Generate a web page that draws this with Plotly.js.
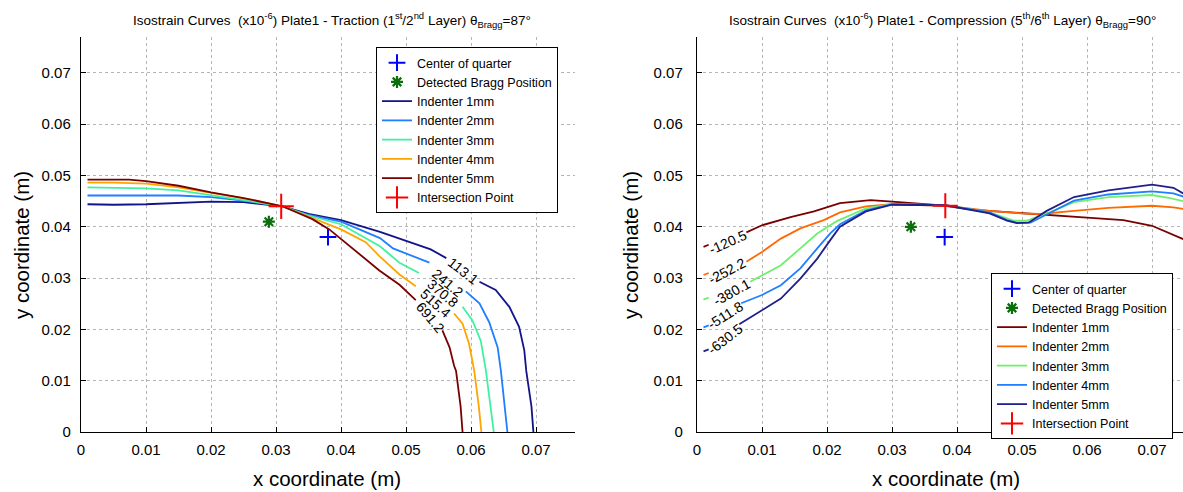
<!DOCTYPE html>
<html><head><meta charset="utf-8">
<script src="https://cdn.plot.ly/plotly-3.0.1.min.js"></script>
<style>html,body{margin:0;padding:0;background:#fff}#chart{width:1183px;height:492px}</style>
</head><body><div id="chart"></div>
<script>
// ---------- tick labels ----------
const tickVals = [0, 0.01, 0.02, 0.03, 0.04, 0.05, 0.06, 0.07];
const tickText = ['0', '0.01', '0.02', '0.03', '0.04', '0.05', '0.06', '0.07'];
const seriesNames = ['Indenter 1mm', 'Indenter 2mm', 'Indenter 3mm', 'Indenter 4mm', 'Indenter 5mm'];

// ---------- LEFT: Traction ----------
const L1x = [0.001,0.005,0.01,0.015,0.02,0.025,0.031,0.035,0.04,0.046,0.0538,0.0562,null,0.0613,0.0638,0.0659,0.0674,0.0682,0.0685,0.0693,0.0696];
const L1y = [0.0444,0.0443,0.0444,0.0446,0.0449,0.0448,0.0440,0.0425,0.0413,0.0390,0.0356,0.0339,null,0.0293,0.0277,0.0244,0.0205,0.0159,0.0119,0.005,0.0];
const L2x = [0.001,0.005,0.01,0.015,0.02,0.025,0.031,0.035,0.04,0.046,0.048,0.051,0.0536,null,0.0592,0.0613,0.0628,0.0641,0.0646,0.0652,0.0656];
const L2y = [0.0461,0.0461,0.0461,0.0461,0.0458,0.0451,0.0440,0.0423,0.0410,0.0378,0.0358,0.0343,0.0330,null,0.0274,0.0251,0.0214,0.0165,0.0119,0.005,0.0];
const L3x = [0.001,0.005,0.01,0.015,0.02,0.025,0.031,0.035,0.04,0.046,0.049,0.052,null,0.0587,0.0602,0.0615,0.0623,0.063,0.0635];
const L3y = [0.0477,0.0476,0.0475,0.0471,0.0462,0.0452,0.0440,0.0422,0.0405,0.0362,0.0330,0.0310,null,0.0244,0.0218,0.0178,0.0119,0.005,0.0];
const L4x = [0.001,0.005,0.01,0.015,0.02,0.025,0.031,0.035,0.04,0.0438,0.0459,0.049,0.0515,null,0.0574,0.0587,0.0597,0.0605,0.0612,0.0616];
const L4y = [0.0486,0.0486,0.0484,0.0477,0.0466,0.0456,0.0440,0.0420,0.0395,0.0370,0.0343,0.0307,0.0284,null,0.0231,0.0211,0.0172,0.0119,0.005,0.0];
const L5x = [0.001,0.005,0.0074,0.01,0.015,0.02,0.025,0.031,0.0356,0.0382,0.0403,0.0459,0.049,0.0515,null,0.0556,0.0567,0.0574,0.0577,0.0584,0.0587];
const L5y = [0.0492,0.0492,0.0492,0.0489,0.0480,0.0467,0.0456,0.0440,0.0415,0.0395,0.0373,0.0315,0.0287,0.0257,null,0.0198,0.0165,0.0129,0.0119,0.005,0.0];
const leftCenter = [0.038, 0.038];
const leftBragg = [0.0289, 0.0410];
const leftInter = [0.0308, 0.0440];
const leftLabelText = ['113.1', '241.2', '370.8', '515.4', '691.2'];
const leftLabelX = [0.0588, 0.0564, 0.0556, 0.0545, 0.0537];
const leftLabelY = [0.0313, 0.0290, 0.0270, 0.0251, 0.0224];
const leftLabelAngle = [38, 40, 40, 42, 50];

// ---------- RIGHT: Compression ----------
const R1x = [0.001,0.0018,null,0.0076,0.01,0.0144,0.018,0.022,0.0267,0.03,0.0382,0.0426,0.05,0.0549,0.06,0.0656,0.07,0.0748];
const R1y = [0.0361,0.0365,null,0.0389,0.0403,0.0419,0.0430,0.0446,0.0452,0.0449,0.0441,0.0433,0.0426,0.0422,0.0418,0.0413,0.0402,0.0376];
const R2x = [0.001,0.0018,null,0.0076,0.01,0.0129,0.0159,0.0195,0.022,0.026,0.03,0.0382,0.045,0.05,0.0528,0.058,0.0633,0.07,0.0733,0.0748];
const R2y = [0.0306,0.0310,null,0.0332,0.0351,0.0377,0.0397,0.0413,0.0428,0.0440,0.0444,0.0441,0.0431,0.0426,0.0425,0.0431,0.0437,0.0441,0.0438,0.0435];
const R3x = [0.001,0.0018,null,0.0082,0.01,0.0129,0.0159,0.0185,0.0215,0.026,0.03,0.0382,0.045,0.0487,0.0508,0.0538,0.058,0.0633,0.07,0.0728,0.0748];
const R3y = [0.0258,0.0262,null,0.0293,0.0305,0.0325,0.0358,0.0387,0.0411,0.0436,0.0444,0.0442,0.0428,0.0412,0.0412,0.0426,0.0448,0.0458,0.0462,0.0456,0.0450];
const R4x = [0.001,0.0018,null,0.0068,0.01,0.0129,0.0159,0.0185,0.0205,0.022,0.026,0.03,0.0382,0.045,0.0477,0.0492,0.0513,0.0544,0.058,0.0633,0.07,0.0733,0.0748];
const R4y = [0.0204,0.0208,null,0.0251,0.0267,0.0286,0.0319,0.0358,0.0387,0.0405,0.0432,0.0444,0.0442,0.0428,0.0413,0.0408,0.0408,0.0428,0.0451,0.0463,0.0469,0.0465,0.0459];
const R5x = [0.001,0.0018,null,0.0065,0.01,0.0129,0.0159,0.0185,0.0205,0.022,0.026,0.03,0.0382,0.045,0.0477,0.0492,0.051,0.0538,0.058,0.0633,0.07,0.0733,0.0748];
const R5y = [0.0157,0.0161,null,0.0210,0.0238,0.0260,0.0299,0.0338,0.0374,0.0400,0.0430,0.0443,0.0442,0.0426,0.0412,0.0407,0.0408,0.0431,0.0458,0.0471,0.0482,0.0476,0.0465];
const rightCenter = [0.0381, 0.0380];
const rightBragg = [0.0329, 0.0400];
const rightInter = [0.0382, 0.0441];
const rightLabelText = ['-120.5', '-252.2', '-380.1', '-511.8', '-630.5'];
const rightLabelX = [0.0048, 0.0046, 0.0054, 0.0044, 0.0043];
const rightLabelY = [0.0370, 0.0314, 0.0272, 0.0228, 0.0182];
const rightLabelAngle = [-24, -28, -29, -32, -38];

// ---------- styling ----------
const leftColors = ['#14148a', '#1f7fff', '#3ff2a2', '#ffa500', '#7a0000'];
const rightColors = ['#7a0000', '#ff6a00', '#6ef06e', '#1f7fff', '#20208a'];
const FONT = 'Liberation Sans, Arial, sans-serif';
const W = 1183, H = 492;
const px = v => v / W;
const py = v => 1 - v / H;

function curveTraces(xs, ys, colors, xa, ya, leg) {
  return xs.map((x, i) => ({
    type: 'scatter', mode: 'lines', x: x, y: ys[i], name: seriesNames[i],
    xaxis: xa, yaxis: ya, legend: leg, connectgaps: false,
    line: {color: colors[i], width: 1.8}
  }));
}
function markerTrace(pt, name, symbol, color, size, lw, xa, ya, leg) {
  return {type: 'scatter', mode: 'markers', x: [pt[0]], y: [pt[1]], name: name,
    xaxis: xa, yaxis: ya, legend: leg,
    marker: {symbol: symbol, size: size, color: color, line: {color: color, width: lw}}};
}

const data = [];
function addPanel(xs, ys, colors, center, bragg, inter, xa, ya, leg) {
  data.push(markerTrace(center, 'Center of quarter', 'cross-thin-open', '#0000ff', 12, 2, xa, ya, leg));
  data.push(markerTrace(bragg, 'Detected Bragg Position', 'asterisk-open', '#0a6e0a', 10, 2.2, xa, ya, leg));
  curveTraces(xs, ys, colors, xa, ya, leg).forEach(t => data.push(t));
  data.push(markerTrace(inter, 'Intersection Point', 'cross-thin-open', '#ff0000', 18, 2, xa, ya, leg));
}
addPanel([L1x, L2x, L3x, L4x, L5x], [L1y, L2y, L3y, L4y, L5y], leftColors, leftCenter, leftBragg, leftInter, 'x', 'y', 'legend');
addPanel([R1x, R2x, R3x, R4x, R5x], [R1y, R2y, R3y, R4y, R5y], rightColors, rightCenter, rightBragg, rightInter, 'x2', 'y2', 'legend2');

function axis(domain, range, anchor, standoff) {
  return {
    domain: domain, range: range, anchor: anchor,
    tickmode: 'array', tickvals: tickVals, ticktext: tickText,
    ticks: 'inside', ticklen: 5, tickwidth: 1, tickcolor: '#000',
    showline: true, linecolor: '#000', linewidth: 1.2, mirror: false,
    showgrid: true, gridcolor: '#b5b5b5', griddash: 'dot', gridwidth: 1,
    zeroline: false, tickfont: {family: FONT, size: 15, color: '#000'},
    ticklabelstandoff: standoff, fixedrange: true
  };
}
const yDom = [py(432), py(37)];
const yMax = (432 - 37) / 5130;

const annotations = [];
function label(text, x, y, angle, xref, yref) {
  annotations.push({text: text, x: x, y: y, xref: xref, yref: yref, textangle: angle,
    showarrow: false, font: {family: FONT, size: 14, color: '#000'}, xanchor: 'center', yanchor: 'middle'});
}
leftLabelText.forEach((t, i) => label(t, leftLabelX[i], leftLabelY[i], leftLabelAngle[i], 'x', 'y'));
rightLabelText.forEach((t, i) => label(t, rightLabelX[i], rightLabelY[i], rightLabelAngle[i], 'x2', 'y2'));

function paperText(text, x, y, size, angle) {
  annotations.push({text: text, x: px(x), y: py(y), xref: 'paper', yref: 'paper', showarrow: false,
    textangle: angle || 0, xanchor: 'center', yanchor: 'middle', font: {family: FONT, size: size, color: '#000'}});
}
paperText('Isostrain Curves\u00a0\u00a0(x10<sup>-6</sup>) Plate1 - Traction (1<sup>st</sup>/2<sup>nd</sup> Layer) θ<sub>Bragg</sub>=87°', 332, 20, 13.5);
paperText('Isostrain Curves\u00a0\u00a0(x10<sup>-6</sup>) Plate1 - Compression (5<sup>th</sup>/6<sup>th</sup> Layer) θ<sub>Bragg</sub>=90°', 942, 20, 13.5);
paperText('x coordinate (m)', 327, 478, 20.5);
paperText('x coordinate (m)', 946, 478, 20.5);
paperText('y coordinate (m)', 21, 245, 20.5, -90);
paperText('y coordinate (m)', 630, 245, 20.5, -90);

const legendStyle = {
  bgcolor: '#fff', bordercolor: '#000', borderwidth: 1,
  font: {family: FONT, size: 12.5, color: '#000'}, itemwidth: 30, tracegroupgap: 0,
  xanchor: 'left', yanchor: 'top', xref: 'paper', yref: 'paper'
};

const layout = {
  width: W, height: H, margin: {l: 0, r: 0, t: 0, b: 0},
  paper_bgcolor: '#fff', plot_bgcolor: '#fff', showlegend: true,
  xaxis: axis([px(81), px(575)], [0, 0.076], 'y', 4),
  yaxis: axis(yDom, [0, yMax], 'x', 6),
  xaxis2: axis([px(697), 1], [0, (W - 697) / 6500], 'y2', 4),
  yaxis2: axis(yDom, [0, yMax], 'x2', 10),
  legend: Object.assign({}, legendStyle, {x: px(376), y: py(47)}),
  legend2: Object.assign({}, legendStyle, {x: px(991), y: py(273)}),
  annotations: annotations
};

Plotly.newPlot('chart', data, layout, {displayModeBar: false, staticPlot: true});
</script></body></html>
